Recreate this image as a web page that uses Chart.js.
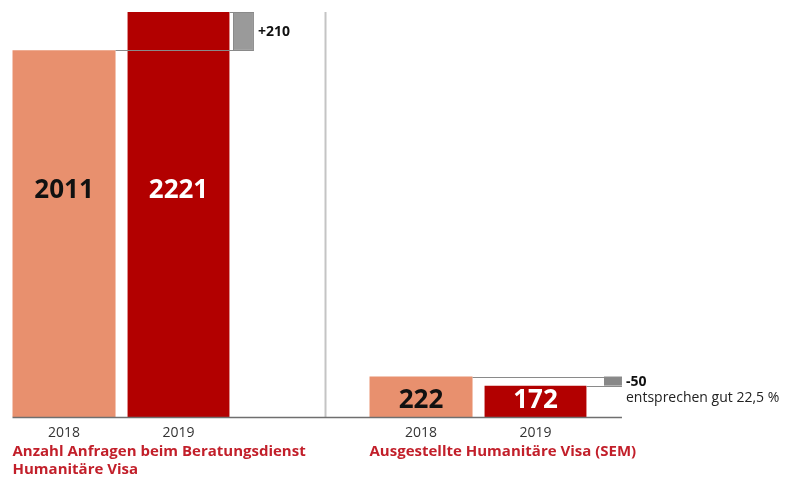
<!DOCTYPE html>
<html>
<head>
<meta charset="utf-8">
<script src="https://cdn.jsdelivr.net/npm/chart.js@4.4.1/dist/chart.umd.min.js"></script>
<style>
  body { margin: 0; background: #fff; }
  .grafico { width: 795px; height: 480px; }
</style>
</head>
<body>
<div class="grafico"><canvas id="myChart"></canvas></div>
<script>
// datos del grafico
const titulos = [["Anzahl Anfragen beim Beratungsdienst", "Humanitäre Visa"], ["Ausgestellte Humanitäre Visa (SEM)"]];
const anios = ["2018", "2019"];
const valores2018 = [2011, 222];
const valores2019 = [2221, 172];
const notas = ["", "entsprechen gut 22,5 %"];

const rojoClaro = "#e8906e";
const rojo = "#b20000";
const rojoTexto = "#c21f2a";
const gris = "#8a8a8a";
const fuente = "'Open Sans', 'Noto Sans', sans-serif";

// una barra gris por grupo (la diferencia 2018 -> 2019)
const diferencias = titulos.map((t, i) =>
  titulos.map((x, j) => j == i ? [valores2018[i], valores2019[i]] : null)
);

var extras = {
  id: "extras",
  afterDatasetsDraw(chart) {
    let ctx = chart.ctx;
    let area = chart.chartArea;
    let base = chart.scales.y.getPixelForValue(0);
    let b18 = chart.getDatasetMeta(0).data;
    let b19 = chart.getDatasetMeta(1).data;
    ctx.save();

    // linea divisoria
    let xDiv = b18[1].x - b18[1].width / 2 - 44;
    ctx.strokeStyle = "#c4c4c4";
    ctx.lineWidth = 2;
    ctx.beginPath();
    ctx.moveTo(xDiv, area.top);
    ctx.lineTo(xDiv, base);
    ctx.stroke();

    titulos.forEach((t, i) => {
      let a = b18[i], b = b19[i];
      let d = chart.getDatasetMeta(2 + i).data[i];
      let dRight = d.x + d.width / 2;

      // caja de la diferencia
      ctx.strokeStyle = gris;
      ctx.lineWidth = 1;
      ctx.beginPath();
      ctx.moveTo(a.x + a.width / 2, Math.round(a.y) + 0.5);
      ctx.lineTo(dRight, Math.round(a.y) + 0.5);
      ctx.moveTo(b.x + b.width / 2, Math.round(b.y) + 0.5);
      ctx.lineTo(dRight, Math.round(b.y) + 0.5);
      ctx.stroke();

      // texto de la diferencia
      let dif = valores2019[i] - valores2018[i];
      let yMid = (d.y + d.base) / 2;
      ctx.fillStyle = "#111";
      ctx.font = "bold 14px " + fuente;
      ctx.textAlign = "left";
      ctx.textBaseline = "middle";
      ctx.fillText((dif > 0 ? "+" : "") + dif, dRight + 4, yMid + 1);
      if (notas[i]) {
        ctx.font = "14px " + fuente;
        ctx.fillStyle = "#222";
        ctx.fillText(notas[i], dRight + 4, yMid + 17);
      }

      // valores dentro de las barras
      let topMedio = (a.y + b.y) / 2;
      let yVal = (base - topMedio) > (base - area.top) / 2
        ? area.top + 0.435 * (base - area.top)
        : (topMedio + base) / 2;
      ctx.textAlign = "center";
      ctx.font = "bold 26px " + fuente;
      ctx.fillStyle = "#111";
      ctx.fillText(valores2018[i], a.x, yVal + 2);
      ctx.fillStyle = "#fff";
      ctx.fillText(valores2019[i], b.x, yVal + 2);

      // años
      ctx.font = "14px " + fuente;
      ctx.fillStyle = "#333";
      ctx.fillText(anios[0], a.x, base + 16);
      ctx.fillText(anios[1], b.x, base + 16);

      // titulo del grupo
      ctx.textAlign = "left";
      ctx.font = "bold 15px " + fuente;
      ctx.fillStyle = rojoTexto;
      t.forEach((linea, k) => {
        ctx.fillText(linea, a.x - a.width / 2, base + 35 + k * 18);
      });
    });

    // linea base
    let last = chart.getDatasetMeta(3).data[1];
    ctx.strokeStyle = "#6f6f6f";
    ctx.lineWidth = 1.5;
    ctx.beginPath();
    ctx.moveTo(b18[0].x - b18[0].width / 2, base + 0.5);
    ctx.lineTo(last.x + last.width / 2, base + 0.5);
    ctx.stroke();
    ctx.restore();
  }
};

const config = {
  type: "bar",
  data: {
    labels: titulos,
    datasets: [
      { label: anios[0], data: valores2018, backgroundColor: rojoClaro, categoryPercentage: 0.962, barPercentage: 0.9 },
      { label: anios[1], data: valores2019, backgroundColor: rojo, categoryPercentage: 0.962, barPercentage: 0.89 },
      { label: "diff", data: diferencias[0], backgroundColor: "#9a9a9a", borderColor: gris, borderWidth: 1, borderSkipped: false, categoryPercentage: 0.546, barPercentage: 0.323 },
      { label: "diff", data: diferencias[1], backgroundColor: "#888", categoryPercentage: 0.651, barPercentage: 0.232 }
    ]
  },
  options: {
    responsive: true,
    maintainAspectRatio: false,
    animation: false,
    skipNull: true,
    layout: { padding: { left: 0, right: 81, top: 12, bottom: 63 } },
    plugins: { legend: { display: false }, tooltip: { enabled: false } },
    scales: {
      x: { display: false },
      y: { display: false, min: 0, max: Math.max(...valores2018, ...valores2019) }
    }
  },
  plugins: [extras]
};

var myChart = new Chart(document.getElementById("myChart"), config);
</script>
</body>
</html>
